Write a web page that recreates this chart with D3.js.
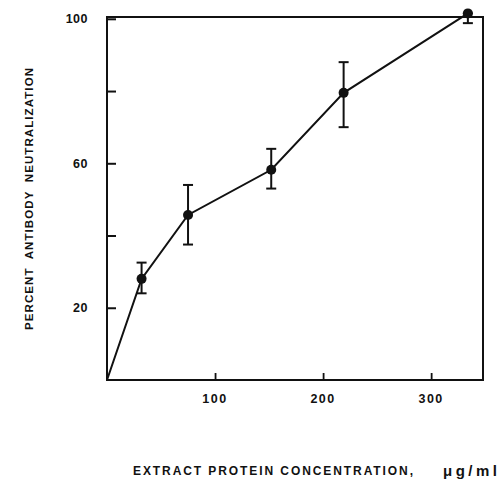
<!DOCTYPE html>
<html>
<head>
<meta charset="utf-8">
<script src="https://cdn.jsdelivr.net/npm/d3@7"></script>
<style>
  html, body { margin: 0; padding: 0; background: #fff; }
  svg { display: block; }
  text { font-family: "Liberation Sans", Arial, sans-serif; font-weight: bold; fill: #111; }
</style>
</head>
<body>
<svg id="chart" width="500" height="483"></svg>
<script>
// ---- data ----
const concentration = [0, 32, 75, 152, 219, 334];          // µg/ml
const neutralization = [0, 28, 45.7, 58.2, 79.5, 101.5];   // percent
const errLow  = [null, 24, 37.5, 53, 70, 98.8];
const errHigh = [null, 32.5, 54, 64, 88, 101.5];
const xTicks = [100, 200, 300];
const yTicks = [20, 40, 60, 80, 100];
const yTickLabels = ["20", "", "60", "", "100"];
const xTitle = "EXTRACT PROTEIN CONCENTRATION,";
const unitTitle = "\u03BCg/ml";
const yTitle = "PERCENT  ANTIBODY  NEUTRALIZATION";

const svg = d3.select("#chart");
const x = d3.scaleLinear().domain([0, 348]).range([107, 483]);
const y = d3.scaleLinear().domain([0, 100.5]).range([380, 17]);

const ink = "#111";

// frame
svg.append("rect")
  .attr("x", x(0)).attr("y", y(100.5))
  .attr("width", x(348) - x(0)).attr("height", y(0) - y(100.5))
  .attr("fill", "none").attr("stroke", ink).attr("stroke-width", 2);

// y axis ticks (inward)
const yAxis = d3.axisRight(y).tickValues(yTicks).tickSize(9).tickFormat("");
const gy = svg.append("g").attr("transform", `translate(${x(0)},0)`).call(yAxis);
gy.select(".domain").remove();
gy.selectAll("line").attr("stroke", ink).attr("stroke-width", 2);
svg.append("g").selectAll("text").data(yTicks).join("text")
  .attr("x", 88).attr("y", d => y(d) + 4.5)
  .attr("text-anchor", "end").attr("font-size", 12.5)
  .attr("letter-spacing", 0.5)
  .text((d, i) => yTickLabels[i]);

// x axis ticks (inward)
const xAxis = d3.axisTop(x).tickValues(xTicks).tickSize(7).tickFormat("");
const gx = svg.append("g").attr("transform", `translate(0,${y(0)})`).call(xAxis);
gx.select(".domain").remove();
gx.selectAll("line").attr("stroke", ink).attr("stroke-width", 1.8);
svg.append("g").selectAll("text").data(xTicks).join("text")
  .attr("x", d => x(d)).attr("y", 403)
  .attr("text-anchor", "middle").attr("font-size", 12.5)
  .attr("letter-spacing", 1.5)
  .text(d => d);

// line
const pts = concentration.map((c, i) => [c, neutralization[i]]);
svg.append("path").datum(pts)
  .attr("fill", "none").attr("stroke", ink).attr("stroke-width", 2)
  .attr("d", d3.line().x(d => x(d[0])).y(d => y(d[1])));

// error bars
const eb = concentration.map((c, i) => ({c, lo: errLow[i], hi: errHigh[i]})).filter(d => d.lo !== null);
const g = svg.append("g").attr("stroke", ink).attr("stroke-width", 2);
g.selectAll(".v").data(eb).join("line")
  .attr("x1", d => x(d.c)).attr("x2", d => x(d.c))
  .attr("y1", d => y(d.lo)).attr("y2", d => y(d.hi));
g.selectAll(".lo").data(eb).join("line")
  .attr("x1", d => x(d.c) - 5).attr("x2", d => x(d.c) + 5)
  .attr("y1", d => y(d.lo)).attr("y2", d => y(d.lo));
g.selectAll(".hi").data(eb).join("line")
  .attr("x1", d => x(d.c) - 5).attr("x2", d => x(d.c) + 5)
  .attr("y1", d => y(d.hi)).attr("y2", d => y(d.hi));

// points
svg.append("g").selectAll("circle").data(pts.slice(1)).join("circle")
  .attr("cx", d => x(d[0])).attr("cy", d => y(d[1]))
  .attr("r", 5).attr("fill", ink);

// axis titles
svg.append("text")
  .attr("x", 133).attr("y", 475)
  .attr("font-size", 12)
  .attr("textLength", 280).attr("lengthAdjust", "spacing")
  .text(xTitle);
svg.append("text")
  .attr("x", 443).attr("y", 476)
  .attr("font-size", 15)
  .attr("textLength", 54).attr("lengthAdjust", "spacing")
  .text(unitTitle);

svg.append("text")
  .attr("transform", "translate(33,330) rotate(-90)")
  .attr("x", 0).attr("y", 0)
  .attr("font-size", 11.5)
  .attr("textLength", 262).attr("lengthAdjust", "spacing")
  .style("white-space", "pre")
  .text(yTitle);
</script>
</body>
</html>
